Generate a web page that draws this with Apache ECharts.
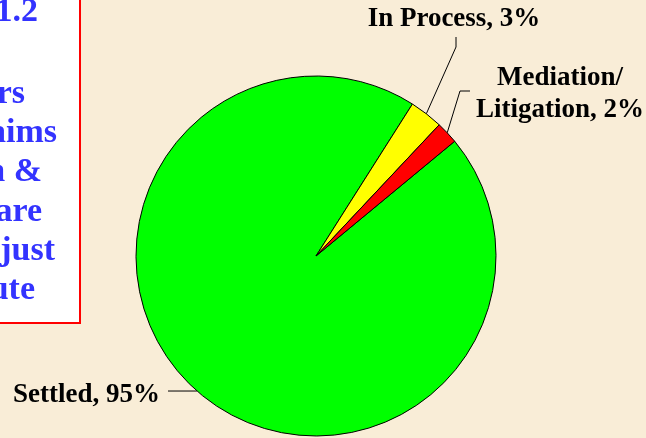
<!DOCTYPE html>
<html>
<head>
<meta charset="utf-8">
<script src="https://cdn.jsdelivr.net/npm/echarts@6/dist/echarts.min.js"></script>
<style>
html,body{margin:0;padding:0;background:#F9EDD7;}
#chart{width:646px;height:438px;}
</style>
</head>
<body>
<div id="chart"></div>
<script>
var categories = ['Settled', 'In Process', 'Mediation/\nLitigation'];
var values = [95, 3, 2];
var sliceColors = ['#00FF00', '#FFFF00', '#FF0000'];
var sideLines = ['1.2', 'rs', 'aims', 'n &', 'are', 'just', 'ute'];
var sideRight = [38, 25, 57, 42, 42, 55, 35];
var sideBase = [29, 111, 150, 189, 229, 268, 307];

var chart = echarts.init(document.getElementById('chart'), null, {renderer: 'canvas'});

var graphics = [{
  type: 'rect', shape: {x: -10, y: -10, width: 90, height: 333},
  style: {fill: '#FFFFFF', stroke: '#FF0000', lineWidth: 2}, z: 1
}];
sideLines.forEach(function (t, i) {
  graphics.push({
    type: 'text', x: sideRight[i], y: sideBase[i], z: 2,
    style: {text: t, fill: '#3333FF', font: 'bold 34px "Liberation Serif", "Times New Roman", serif',
      textAlign: 'right', textVerticalAlign: 'bottom'}
  });
});

var labelPos = [
  {x: 160, y: 395, align: 'right'},
  {x: 454, y: 19, align: 'center'},
  {x: 560, y: 94, align: 'center'}
];

chart.setOption({
  backgroundColor: '#F9EDD7',
  animation: false,
  graphic: graphics,
  series: [{
    type: 'pie',
    center: [316, 256],
    radius: 180,
    startAngle: 39.6,
    clockwise: true,
    avoidLabelOverlap: false,
    data: categories.map(function (c, i) {
      return {name: c, value: values[i], itemStyle: {color: sliceColors[i]}};
    }),
    itemStyle: {borderColor: '#000000', borderWidth: 1},
    emphasis: {disabled: true},
    label: {
      show: true, position: 'outside',
      formatter: '{b}, {d}%',
      color: '#000000', fontFamily: '"Liberation Serif", "Times New Roman", serif',
      fontWeight: 'bold', fontSize: 27, lineHeight: 32
    },
    labelLine: {show: true, length: 20, length2: 10, lineStyle: {color: '#000000', width: 1}},
    labelLayout: function (params) {
      var i = params.dataIndex;
      var p = labelPos[i];
      var p0 = params.labelLinePoints ? params.labelLinePoints[0] : null;
      var pts;
      if (p0) {
        if (i === 0) pts = [p0, [168, p0[1]]];
        else if (i === 1) pts = [p0, [456, 47], [456, 37]];
        else pts = [p0, [460, 91], [470, 91]];
      }
      var r = {x: p.x, y: p.y, align: p.align, verticalAlign: 'middle'};
      if (pts) r.labelLinePoints = pts;
      return r;
    }
  }]
});
</script>
</body>
</html>
